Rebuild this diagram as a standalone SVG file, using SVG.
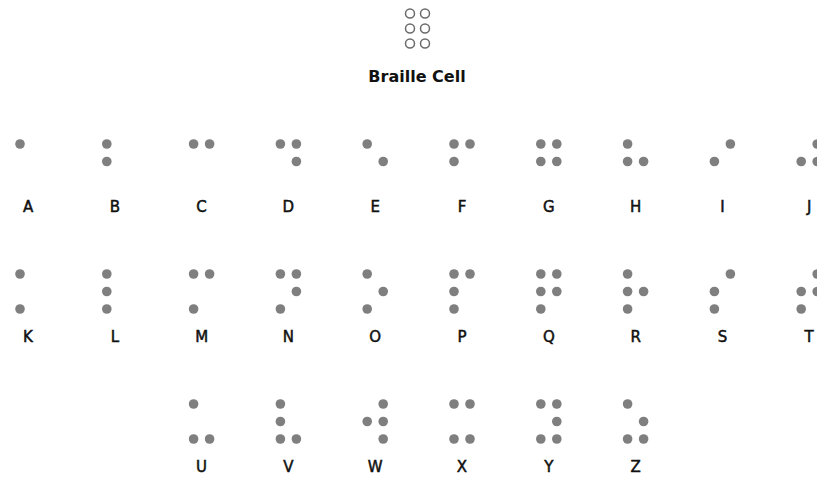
<svg xmlns="http://www.w3.org/2000/svg" width="817" height="479" viewBox="0 0 817 479">
<style>
.d{fill:#7f7f7f}
.e{fill:none;stroke:#6a6a6a;stroke-width:1.5}
.t{font-family:"DejaVu Sans",sans-serif;font-size:15px;fill:#111;stroke:#111;stroke-width:0.5;text-anchor:middle}
.h{font-family:"DejaVu Sans",sans-serif;font-weight:bold;font-size:16px;fill:#111;text-anchor:middle}
</style>
<rect width="817" height="479" fill="#fff"/>
<g id="cell">
<circle class="e" cx="410" cy="13.5" r="4.5"/><circle class="e" cx="425" cy="13.5" r="4.5"/>
<circle class="e" cx="410" cy="28.5" r="4.5"/><circle class="e" cx="425" cy="28.5" r="4.5"/>
<circle class="e" cx="410" cy="43.5" r="4.5"/><circle class="e" cx="425" cy="43.5" r="4.5"/>
<text class="h" x="417" y="82">Braille Cell</text>
</g>
<g id="connectors"/>
<g id="A" transform="translate(28,144)"><circle class="d" cx="-8" cy="0" r="4.8"/><text class="t" x="0" y="67.5">A</text></g>
<g id="B" transform="translate(114.8,144)"><circle class="d" cx="-8" cy="0" r="4.8"/><circle class="d" cx="-8" cy="17.5" r="4.8"/><text class="t" x="0" y="67.5">B</text></g>
<g id="C" transform="translate(201.6,144)"><circle class="d" cx="-8" cy="0" r="4.8"/><circle class="d" cx="8" cy="0" r="4.8"/><text class="t" x="0" y="67.5">C</text></g>
<g id="D" transform="translate(288.4,144)"><circle class="d" cx="-8" cy="0" r="4.8"/><circle class="d" cx="8" cy="0" r="4.8"/><circle class="d" cx="8" cy="17.5" r="4.8"/><text class="t" x="0" y="67.5">D</text></g>
<g id="E" transform="translate(375.2,144)"><circle class="d" cx="-8" cy="0" r="4.8"/><circle class="d" cx="8" cy="17.5" r="4.8"/><text class="t" x="0" y="67.5">E</text></g>
<g id="F" transform="translate(462,144)"><circle class="d" cx="-8" cy="0" r="4.8"/><circle class="d" cx="8" cy="0" r="4.8"/><circle class="d" cx="-8" cy="17.5" r="4.8"/><text class="t" x="0" y="67.5">F</text></g>
<g id="G" transform="translate(548.8,144)"><circle class="d" cx="-8" cy="0" r="4.8"/><circle class="d" cx="8" cy="0" r="4.8"/><circle class="d" cx="-8" cy="17.5" r="4.8"/><circle class="d" cx="8" cy="17.5" r="4.8"/><text class="t" x="0" y="67.5">G</text></g>
<g id="H" transform="translate(635.6,144)"><circle class="d" cx="-8" cy="0" r="4.8"/><circle class="d" cx="-8" cy="17.5" r="4.8"/><circle class="d" cx="8" cy="17.5" r="4.8"/><text class="t" x="0" y="67.5">H</text></g>
<g id="I" transform="translate(722.4,144)"><circle class="d" cx="8" cy="0" r="4.8"/><circle class="d" cx="-8" cy="17.5" r="4.8"/><text class="t" x="0" y="67.5">I</text></g>
<g id="J" transform="translate(809.2,144)"><circle class="d" cx="8" cy="0" r="4.8"/><circle class="d" cx="-8" cy="17.5" r="4.8"/><circle class="d" cx="8" cy="17.5" r="4.8"/><text class="t" x="0" y="67.5">J</text></g>
<g id="K" transform="translate(28,274)"><circle class="d" cx="-8" cy="0" r="4.8"/><circle class="d" cx="-8" cy="35" r="4.8"/><text class="t" x="0" y="67.5">K</text></g>
<g id="L" transform="translate(114.8,274)"><circle class="d" cx="-8" cy="0" r="4.8"/><circle class="d" cx="-8" cy="17.5" r="4.8"/><circle class="d" cx="-8" cy="35" r="4.8"/><text class="t" x="0" y="67.5">L</text></g>
<g id="M" transform="translate(201.6,274)"><circle class="d" cx="-8" cy="0" r="4.8"/><circle class="d" cx="8" cy="0" r="4.8"/><circle class="d" cx="-8" cy="35" r="4.8"/><text class="t" x="0" y="67.5">M</text></g>
<g id="N" transform="translate(288.4,274)"><circle class="d" cx="-8" cy="0" r="4.8"/><circle class="d" cx="8" cy="0" r="4.8"/><circle class="d" cx="8" cy="17.5" r="4.8"/><circle class="d" cx="-8" cy="35" r="4.8"/><text class="t" x="0" y="67.5">N</text></g>
<g id="O" transform="translate(375.2,274)"><circle class="d" cx="-8" cy="0" r="4.8"/><circle class="d" cx="8" cy="17.5" r="4.8"/><circle class="d" cx="-8" cy="35" r="4.8"/><text class="t" x="0" y="67.5">O</text></g>
<g id="P" transform="translate(462,274)"><circle class="d" cx="-8" cy="0" r="4.8"/><circle class="d" cx="8" cy="0" r="4.8"/><circle class="d" cx="-8" cy="17.5" r="4.8"/><circle class="d" cx="-8" cy="35" r="4.8"/><text class="t" x="0" y="67.5">P</text></g>
<g id="Q" transform="translate(548.8,274)"><circle class="d" cx="-8" cy="0" r="4.8"/><circle class="d" cx="8" cy="0" r="4.8"/><circle class="d" cx="-8" cy="17.5" r="4.8"/><circle class="d" cx="8" cy="17.5" r="4.8"/><circle class="d" cx="-8" cy="35" r="4.8"/><text class="t" x="0" y="67.5">Q</text></g>
<g id="R" transform="translate(635.6,274)"><circle class="d" cx="-8" cy="0" r="4.8"/><circle class="d" cx="-8" cy="17.5" r="4.8"/><circle class="d" cx="8" cy="17.5" r="4.8"/><circle class="d" cx="-8" cy="35" r="4.8"/><text class="t" x="0" y="67.5">R</text></g>
<g id="S" transform="translate(722.4,274)"><circle class="d" cx="8" cy="0" r="4.8"/><circle class="d" cx="-8" cy="17.5" r="4.8"/><circle class="d" cx="-8" cy="35" r="4.8"/><text class="t" x="0" y="67.5">S</text></g>
<g id="T" transform="translate(809.2,274)"><circle class="d" cx="8" cy="0" r="4.8"/><circle class="d" cx="-8" cy="17.5" r="4.8"/><circle class="d" cx="8" cy="17.5" r="4.8"/><circle class="d" cx="-8" cy="35" r="4.8"/><text class="t" x="0" y="67.5">T</text></g>
<g id="U" transform="translate(201.6,404)"><circle class="d" cx="-8" cy="0" r="4.8"/><circle class="d" cx="-8" cy="35" r="4.8"/><circle class="d" cx="8" cy="35" r="4.8"/><text class="t" x="0" y="67.5">U</text></g>
<g id="V" transform="translate(288.4,404)"><circle class="d" cx="-8" cy="0" r="4.8"/><circle class="d" cx="-8" cy="17.5" r="4.8"/><circle class="d" cx="-8" cy="35" r="4.8"/><circle class="d" cx="8" cy="35" r="4.8"/><text class="t" x="0" y="67.5">V</text></g>
<g id="W" transform="translate(375.2,404)"><circle class="d" cx="8" cy="0" r="4.8"/><circle class="d" cx="-8" cy="17.5" r="4.8"/><circle class="d" cx="8" cy="17.5" r="4.8"/><circle class="d" cx="8" cy="35" r="4.8"/><text class="t" x="0" y="67.5">W</text></g>
<g id="X" transform="translate(462,404)"><circle class="d" cx="-8" cy="0" r="4.8"/><circle class="d" cx="8" cy="0" r="4.8"/><circle class="d" cx="-8" cy="35" r="4.8"/><circle class="d" cx="8" cy="35" r="4.8"/><text class="t" x="0" y="67.5">X</text></g>
<g id="Y" transform="translate(548.8,404)"><circle class="d" cx="-8" cy="0" r="4.8"/><circle class="d" cx="8" cy="0" r="4.8"/><circle class="d" cx="8" cy="17.5" r="4.8"/><circle class="d" cx="-8" cy="35" r="4.8"/><circle class="d" cx="8" cy="35" r="4.8"/><text class="t" x="0" y="67.5">Y</text></g>
<g id="Z" transform="translate(635.6,404)"><circle class="d" cx="-8" cy="0" r="4.8"/><circle class="d" cx="8" cy="17.5" r="4.8"/><circle class="d" cx="-8" cy="35" r="4.8"/><circle class="d" cx="8" cy="35" r="4.8"/><text class="t" x="0" y="67.5">Z</text></g>
</svg>
